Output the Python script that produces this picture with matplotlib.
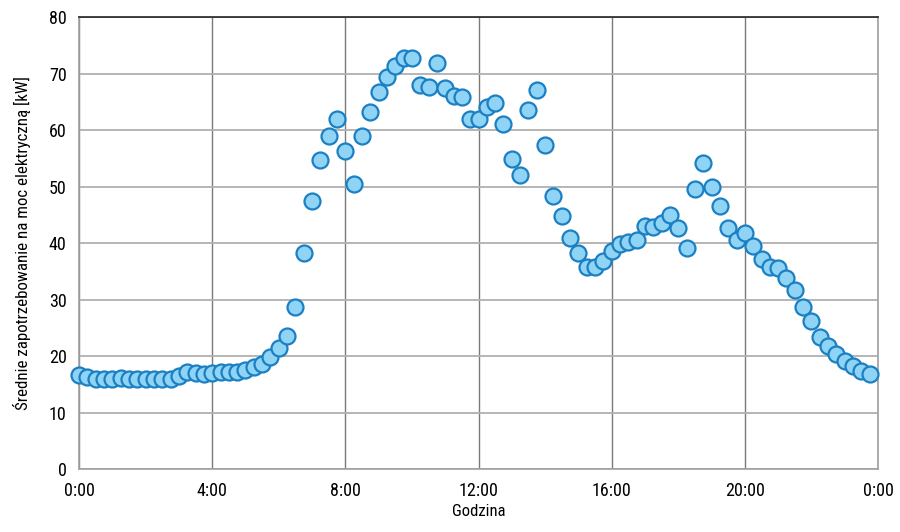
import matplotlib
matplotlib.use("Agg")
import matplotlib.pyplot as plt
import matplotlib.ticker as mticker

plt.rcParams['font.family'] = ['Roboto Condensed', 'Liberation Sans Narrow', 'Liberation Sans', 'DejaVu Sans']

# quarter-hour slots, value in hours
hours = [i * 0.25 for i in range(96)]
demand_kw = [
    16.6, 16.2, 16.0, 15.9, 16.0, 16.1, 16.0, 15.9,
    15.9, 15.9, 16.0, 16.0, 16.4, 17.1, 17.0, 16.9,
    17.0, 17.2, 17.2, 17.2, 17.6, 18.1, 18.5, 19.9,
    21.5, 23.5, 28.7, 38.3, 47.5, 54.7, 58.9, 62.0,
    56.3, 50.4, 59.0, 63.2, 66.8, 69.3, 71.3, 72.8,
    72.8, 67.9, 67.6, 71.8, 67.5, 66.0, 65.8, 62.0,
    62.0, 64.0, 64.8, 61.1, 54.9, 52.0, 63.5, 67.1,
    57.4, 48.4, 44.7, 40.9, 38.3, 35.7, 35.7, 36.9,
    38.6, 39.9, 40.1, 40.6, 43.1, 42.8, 43.5, 45.0,
    42.6, 39.2, 49.6, 54.2, 50.0, 46.5, 42.7, 40.6,
    41.8, 39.4, 37.2, 35.7, 35.6, 33.8, 31.7, 28.6,
    26.2, 23.3, 21.8, 20.4, 19.2, 18.2, 17.4, 16.9,
]
tick_hours = [0, 4, 8, 12, 16, 20, 24]
tick_labels = ["0:00", "4:00", "8:00", "12:00", "16:00", "20:00", "0:00"]

fig = plt.figure(figsize=(9, 5.32), dpi=100)
ax = fig.add_axes([0.0878, 0.1184, 0.8878, 0.8496])

ax.plot(hours, demand_kw, linestyle="none", marker="o", markersize=11.5,
        markerfacecolor="#8fd4f5", markeredgecolor="#1a7fc3",
        markeredgewidth=1.6, clip_on=False, zorder=3)

ax.set_xlim(0, 24)
ax.set_ylim(0, 80)
ax.set_xticks(tick_hours)
ax.set_xticklabels(tick_labels)
ax.yaxis.set_major_locator(mticker.MultipleLocator(10))
ax.tick_params(length=0, labelsize=13, pad=9)

ax.grid(axis="x", color="#7a7a7a", linewidth=1)
ax.grid(axis="y", color="#b0b0b0", linewidth=1.3)
ax.set_axisbelow(True)

ax.spines["top"].set_color("#222222")
ax.spines["left"].set_color("#a0a0a0")
ax.spines["right"].set_color("#a0a0a0")
ax.spines["bottom"].set_color("#a0a0a0")
for s in ax.spines.values():
    s.set_linewidth(1.2)

ax.set_xlabel("Godzina", fontsize=12, labelpad=3)
ax.set_ylabel("Średnie zapotrzebowanie na moc elektryczną [kW]", fontsize=12.2, labelpad=13)

fig.savefig("out.png", dpi=100)
